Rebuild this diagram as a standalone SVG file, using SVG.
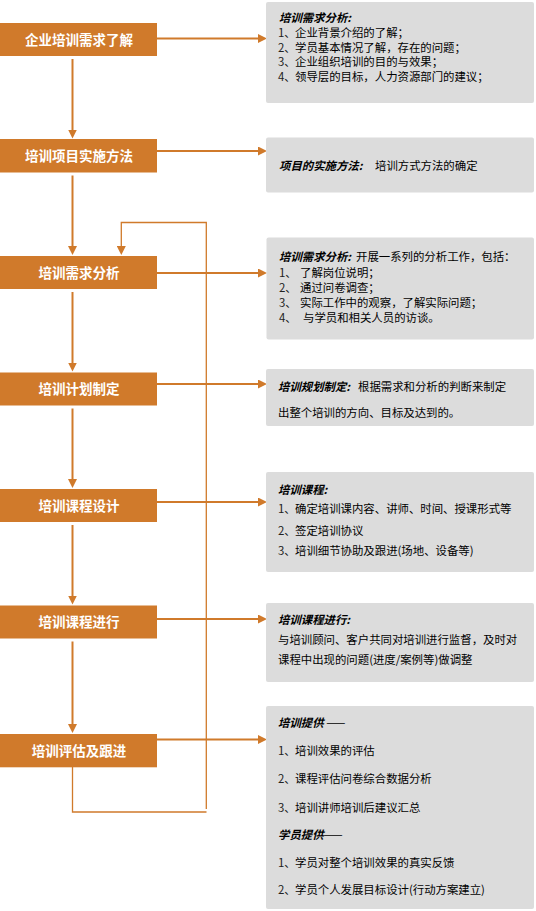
<svg xmlns="http://www.w3.org/2000/svg" width="536" height="911" viewBox="0 0 536 911">
<style>
.box{fill:#D07A2B}
.bt{font-family:"Noto Sans CJK SC","Noto Sans",sans-serif;font-size:13.5px;font-weight:bold;fill:#fff;text-anchor:middle}
.pn{fill:#DCDCDC}
.t{font-family:"Noto Sans CJK SC","Noto Sans",sans-serif;font-size:11.4px;fill:#000}
.h{font-weight:bold;font-style:italic}
.n{fill:#222}
.c{fill:none;stroke:#D07A2B;stroke-width:2}
.l{fill:none;stroke:#D07A2B;stroke-width:1.3}
</style>
<defs>
<marker id="ah" markerUnits="userSpaceOnUse" markerWidth="9" markerHeight="9" refX="5" refY="4.5" orient="auto">
<path d="M0,0 L9,4.5 L0,9 z" fill="#D07A2B"/>
</marker>
</defs>
<g id="connectors">
<line class="c" x1="72.5" y1="59" x2="72.5" y2="134.5" marker-end="url(#ah)"/>
<line class="c" x1="72.5" y1="175.5" x2="72.5" y2="251" marker-end="url(#ah)"/>
<line class="c" x1="72.5" y1="292" x2="72.5" y2="367.5" marker-end="url(#ah)"/>
<line class="c" x1="72.5" y1="408.5" x2="72.5" y2="484" marker-end="url(#ah)"/>
<line class="c" x1="72.5" y1="525" x2="72.5" y2="600.5" marker-end="url(#ah)"/>
<line class="c" x1="72.5" y1="641.5" x2="72.5" y2="729" marker-end="url(#ah)"/>
<line class="c" x1="157" y1="38.5" x2="263" y2="38.5" marker-end="url(#ah)"/>
<line class="c" x1="157" y1="151" x2="263" y2="151" marker-end="url(#ah)"/>
<line class="c" x1="157" y1="273" x2="263" y2="273" marker-end="url(#ah)"/>
<line class="c" x1="157" y1="384" x2="263" y2="384" marker-end="url(#ah)"/>
<line class="c" x1="157" y1="502" x2="263" y2="502" marker-end="url(#ah)"/>
<line class="c" x1="157" y1="619" x2="263" y2="619" marker-end="url(#ah)"/>
<line class="c" x1="157" y1="739.5" x2="263" y2="739.5" marker-end="url(#ah)"/>
<polyline class="l" points="72.5,767 72.5,812 206.5,812"/>
<polyline class="l" points="206.3,809 206.3,222.5 121.3,222.5 121.3,250"/>
<line class="c" x1="121.3" y1="249" x2="121.3" y2="251" marker-end="url(#ah)"/>
</g>
<g id="n1"><rect class="box" x="0" y="23" width="157" height="33"/><text class="bt" x="79" y="44.5">企业培训需求了解</text></g>
<g id="n2"><rect class="box" x="0" y="139" width="157" height="33.5"/><text class="bt" x="79" y="161">培训项目实施方法</text></g>
<g id="n3"><rect class="box" x="0" y="256" width="157" height="33"/><text class="bt" x="79" y="277.5">培训需求分析</text></g>
<g id="n4"><rect class="box" x="0" y="372.5" width="157" height="33"/><text class="bt" x="79" y="394">培训计划制定</text></g>
<g id="n5"><rect class="box" x="0" y="489" width="157" height="33"/><text class="bt" x="79" y="510.5">培训课程设计</text></g>
<g id="n6"><rect class="box" x="0" y="605.5" width="157" height="33"/><text class="bt" x="79" y="627">培训课程进行</text></g>
<g id="n7"><rect class="box" x="0" y="734" width="157" height="33.3"/><text class="bt" x="79" y="755.5">培训评估及跟进</text></g>
<g id="p1">
<rect class="pn" x="266" y="2" width="268" height="101" rx="2"/>
<text class="t h" x="279" y="21.5">培训需求分析:</text>
<text class="t n" x="278" y="37">1、</text><text class="t" x="295" y="37">企业背景介绍的了解；</text>
<text class="t n" x="278" y="51.5">2、</text><text class="t" x="295" y="51.5">学员基本情况了解，存在的问题；</text>
<text class="t n" x="278" y="66">3、</text><text class="t" x="295" y="66">企业组织培训的目的与效果；</text>
<text class="t n" x="278" y="80.5">4、</text><text class="t" x="295" y="80.5">领导层的目标，人力资源部门的建议；</text>
</g>
<g id="p2">
<rect class="pn" x="266" y="137.5" width="268" height="55" rx="2"/>
<text class="t h" x="279" y="169.5">项目的实施方法:</text>
<text class="t" x="375" y="169.5">培训方式方法的确定</text>
</g>
<g id="p3">
<rect class="pn" x="266.5" y="237.5" width="267.5" height="102" rx="2"/>
<text class="t h" x="279" y="260.5">培训需求分析:</text>
<text class="t" x="356" y="260.5">开展一系列的分析工作，包括：</text>
<text class="t n" x="279" y="276.5">1、</text><text class="t" x="300" y="276.5">了解岗位说明；</text>
<text class="t n" x="279" y="291.5">2、</text><text class="t" x="300" y="291.5">通过问卷调查；</text>
<text class="t n" x="279" y="306.5">3、</text><text class="t" x="300" y="306.5">实际工作中的观察，了解实际问题；</text>
<text class="t n" x="279" y="321.5">4、</text><text class="t" x="303" y="321.5">与学员和相关人员的访谈。</text>
</g>
<g id="p4">
<rect class="pn" x="266" y="369" width="268" height="57" rx="2"/>
<text class="t h" x="278" y="390.5">培训规划制定:</text>
<text class="t" x="358" y="390.5">根据需求和分析的判断来制定</text>
<text class="t" x="278" y="417">出整个培训的方向、目标及达到的。</text>
</g>
<g id="p5">
<rect class="pn" x="266" y="472" width="268" height="100" rx="2"/>
<text class="t h" x="278" y="494">培训课程:</text>
<text class="t n" x="278" y="513">1、</text><text class="t" x="295" y="513">确定培训课内容、讲师、时间、授课形式等</text>
<text class="t n" x="278" y="534.5">2、</text><text class="t" x="295" y="534.5">签定培训协议</text>
<text class="t n" x="278" y="554.5">3、</text><text class="t" x="295" y="554.5">培训细节协助及跟进(场地、设备等)</text>
</g>
<g id="p6">
<rect class="pn" x="266" y="603" width="268" height="79" rx="2"/>
<text class="t h" x="278" y="624">培训课程进行:</text>
<text class="t" x="278" y="644">与培训顾问、客户共同对培训进行监督，及时对</text>
<text class="t" x="278" y="664">课程中出现的问题(进度/案例等)做调整</text>
</g>
<g id="p7">
<rect class="pn" x="266" y="706" width="268" height="203" rx="2"/>
<text class="t h" x="278" y="727">培训提供<tspan font-weight="normal" font-style="normal"> ——</tspan></text>
<text class="t n" x="278" y="754.5">1、</text><text class="t" x="295" y="754.5">培训效果的评估</text>
<text class="t n" x="278" y="782.5">2、</text><text class="t" x="295" y="782.5">课程评估问卷综合数据分析</text>
<text class="t n" x="278" y="811.5">3、</text><text class="t" x="295" y="811.5">培训讲师培训后建议汇总</text>
<text class="t h" x="278" y="838.5">学员提供<tspan font-weight="normal" font-style="normal">——</tspan></text>
<text class="t n" x="278" y="866.5">1、</text><text class="t" x="295" y="866.5">学员对整个培训效果的真实反馈</text>
<text class="t n" x="278" y="893.5">2、</text><text class="t" x="295" y="893.5">学员个人发展目标设计(行动方案建立)</text>
</g>
</svg>
